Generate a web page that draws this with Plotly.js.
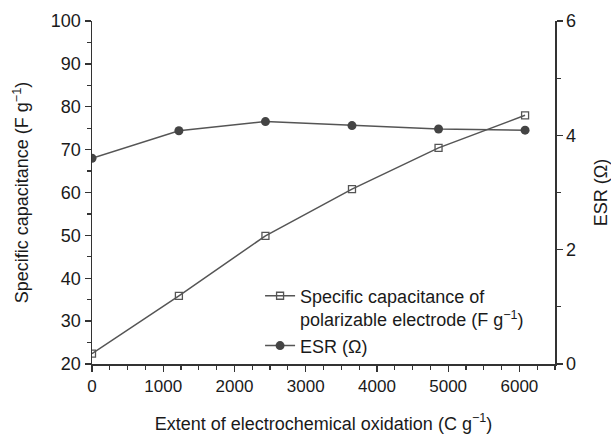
<!DOCTYPE html>
<html>
<head>
<meta charset="utf-8">
<script src="https://cdn.plot.ly/plotly-3.0.1.min.js"></script>
<style>html,body{margin:0;padding:0;background:#fff;}#chart{width:611px;height:434px;}</style>
</head>
<body>
<div id="chart"></div>
<script>
// Data
const oxidation = [0, 1220, 2435, 3650, 4865, 6080];          // C g^-1
const capacitance = [22.4, 35.9, 49.9, 60.8, 70.4, 78.0];     // F g^-1
const esr = [3.60, 4.08, 4.24, 4.17, 4.11, 4.09];             // Ohm

const capName = "Specific capacitance of<br>polarizable electrode (F g<sup>−1</sup>)";
const esrName = "ESR (Ω)";

const FONT = "Liberation Sans, Arial, sans-serif";
const AX = "#333333";
const LINE = "#555555";

const traces = [
  {
    x: oxidation, y: capacitance, name: capName, type: "scatter", mode: "lines+markers",
    xaxis: "x", yaxis: "y",
    line: {color: LINE, width: 1.5},
    marker: {symbol: "square-open", size: 7, color: LINE, line: {width: 1.3, color: LINE}}
  },
  {
    x: oxidation, y: esr, name: esrName, type: "scatter", mode: "lines+markers",
    xaxis: "x", yaxis: "y2",
    line: {color: LINE, width: 1.5},
    marker: {symbol: "circle", size: 9, color: "#444444"}
  }
];

const layout = {
  width: 611, height: 434,
  margin: {l: 92, r: 56, t: 21, b: 70, pad: 0},
  paper_bgcolor: "#ffffff", plot_bgcolor: "#ffffff",
  font: {family: FONT, size: 18, color: "#1a1a1a"},
  showlegend: true,
  legend: {
    x: 0.363, y: 0.252, xanchor: "left", yanchor: "top",
    bgcolor: "rgba(0,0,0,0)", borderwidth: 0,
    font: {family: FONT, size: 18, color: "#1a1a1a"},
    valign: "top", tracegroupgap: 0
  },
  xaxis: {
    range: [0, 6500], dtick: 1000, tick0: 0,
    showgrid: false, zeroline: false,
    showline: true, linecolor: AX, linewidth: 1.5,
    ticks: "outside", ticklen: 6, tickwidth: 1.3, tickcolor: AX,
    minor: {dtick: 250, tick0: 0, ticks: "outside", ticklen: 4, tickwidth: 1.2, tickcolor: AX, showgrid: false},
    tickfont: {size: 17},
    title: {text: "Extent of electrochemical oxidation (C g<sup>−1</sup>)", font: {size: 18}, standoff: 22},
    automargin: false
  },
  xaxis2: {
    overlaying: "x", side: "top", anchor: "y", matches: "x",
    range: [0, 6500], dtick: 1000, tick0: 0,
    showgrid: false, zeroline: false, showticklabels: false,
    showline: true, linecolor: AX, linewidth: 1.5,
    ticks: "inside", ticklen: 4, tickwidth: 1.2, tickcolor: AX,
    minor: {dtick: 250, tick0: 0, ticks: "inside", ticklen: 4, tickwidth: 1.2, tickcolor: AX, showgrid: false}
  },
  yaxis: {
    range: [20, 100], dtick: 10, tick0: 0,
    showgrid: false, zeroline: false,
    showline: true, linecolor: AX, linewidth: 1.5,
    ticks: "outside", ticklen: 6, tickwidth: 1.3, tickcolor: AX,
    minor: {dtick: 5, tick0: 0, ticks: "outside", ticklen: 4, tickwidth: 1.2, tickcolor: AX, showgrid: false},
    tickfont: {size: 18},
    title: {text: "Specific capacitance (F g<sup>−1</sup>)", font: {size: 18}, standoff: 17},
    automargin: false
  },
  yaxis2: {
    overlaying: "y", side: "right", anchor: "x",
    range: [0, 6], dtick: 2, tick0: 0,
    showgrid: false, zeroline: false,
    showline: true, linecolor: AX, linewidth: 1.5,
    ticks: "outside", ticklen: 6, tickwidth: 1.3, tickcolor: AX,
    minor: {dtick: 1, tick0: 0, ticks: "outside", ticklen: 4, tickwidth: 1.2, tickcolor: AX, showgrid: false},
    tickfont: {size: 18},
    title: {text: "ESR (Ω)", font: {size: 18}, standoff: 19},
    automargin: false
  }
};

Plotly.newPlot("chart", traces, layout, {staticPlot: true, displayModeBar: false});
</script>
</body>
</html>
